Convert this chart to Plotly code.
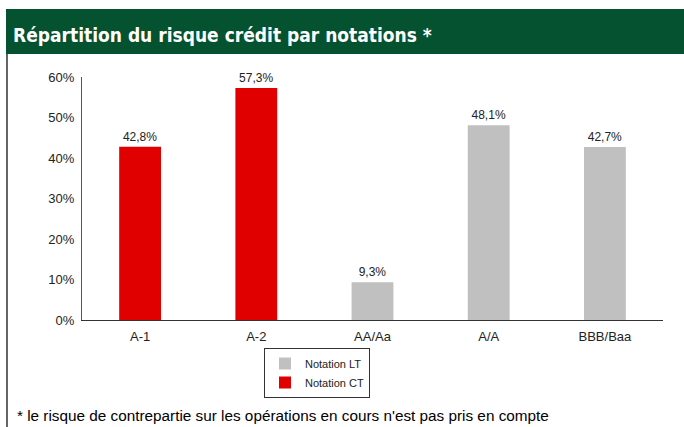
import plotly.graph_objects as go

categories = ["A-1", "A-2", "AA/Aa", "A/A", "BBB/Baa"]
lt_values = [None, None, 9.3, 48.1, 42.7]
ct_values = [42.8, 57.3, None, None, None]
y_ticks = [0, 10, 20, 30, 40, 50, 60]
y_tick_labels = [f"{v}%" for v in y_ticks]

title_text = "Répartition du risque crédit par notations *"
footnote_text = "* le risque de contrepartie sur les opérations en cours n'est pas pris en compte"

W, H = 684, 427
L, R, T, B = 82, 21, 77, 107
PW = W - L - R
PH = H - T - B


def px(x):
    return (x - L) / PW


def py(y):
    return (H - B - y) / PH


BASE_FONT = "Liberation Sans, Arial, sans-serif"

fig = go.Figure()
fig.add_trace(go.Bar(
    x=categories, y=lt_values, name="Notation LT",
    marker=dict(color="#c0c0c0", line=dict(width=0)),
    width=0.36, texttemplate="%{y:.1f}%", textposition="outside",
    textfont=dict(size=12, color="#222222", family=BASE_FONT),
    cliponaxis=False,
))
fig.add_trace(go.Bar(
    x=categories, y=ct_values, name="Notation CT",
    marker=dict(color="#e00000", line=dict(width=0)),
    width=0.36, texttemplate="%{y:.1f}%", textposition="outside",
    textfont=dict(size=12, color="#222222", family=BASE_FONT),
    cliponaxis=False,
))

shapes = [
    dict(type="rect", xref="paper", yref="paper",
         x0=px(6), x1=px(690), y0=py(54), y1=py(9),
         fillcolor="#04522f", line=dict(width=0), layer="below"),
    dict(type="line", xref="paper", yref="paper",
         x0=px(7), x1=px(7), y0=py(54), y1=py(430),
         line=dict(color="#333333", width=1.5)),
]

annotations = [
    dict(text=title_text, xref="paper", yref="paper",
         x=px(11), y=py(35), xanchor="left", yanchor="middle",
         showarrow=False,
         font=dict(size=19, color="white", weight="bold",
                   family="DejaVu Sans Condensed, Liberation Sans Narrow, Open Sans, sans-serif")),
    dict(text=footnote_text, xref="paper", yref="paper",
         x=px(15), y=py(415), xanchor="left", yanchor="middle",
         showarrow=False,
         font=dict(size=15.3, color="#000000", family=BASE_FONT)),
]

fig.update_layout(
    width=W, height=H,
    margin=dict(l=L, r=R, t=T, b=B, pad=0),
    paper_bgcolor="white", plot_bgcolor="white",
    separators=", ",
    barmode="overlay",
    showlegend=True,
    legend=dict(
        x=px(264), y=py(348), xanchor="left", yanchor="top",
        orientation="v", bordercolor="#333333", borderwidth=1,
        bgcolor="white", font=dict(size=11, color="#222222", family=BASE_FONT),
        traceorder="normal", itemsizing="constant",
    ),
    shapes=shapes,
    annotations=annotations,
    font=dict(family=BASE_FONT, color="#222222"),
    xaxis=dict(
        showline=True, linecolor="#333333", linewidth=1,
        showgrid=False, ticks="", zeroline=False,
        ticklabelstandoff=4,
        tickfont=dict(size=13, color="#222222"),
        fixedrange=True,
    ),
    yaxis=dict(
        range=[0, 60], tickmode="array", tickvals=y_ticks, ticktext=y_tick_labels,
        showline=True, linecolor="#555555", linewidth=1,
        showgrid=False, zeroline=False, ticks="",
        ticklabelstandoff=4,
        tickfont=dict(size=13, color="#222222"),
        fixedrange=True,
    ),
)

fig.write_html("out.html", config={"displayModeBar": False},
               post_script="document.body.style.margin='0';")
